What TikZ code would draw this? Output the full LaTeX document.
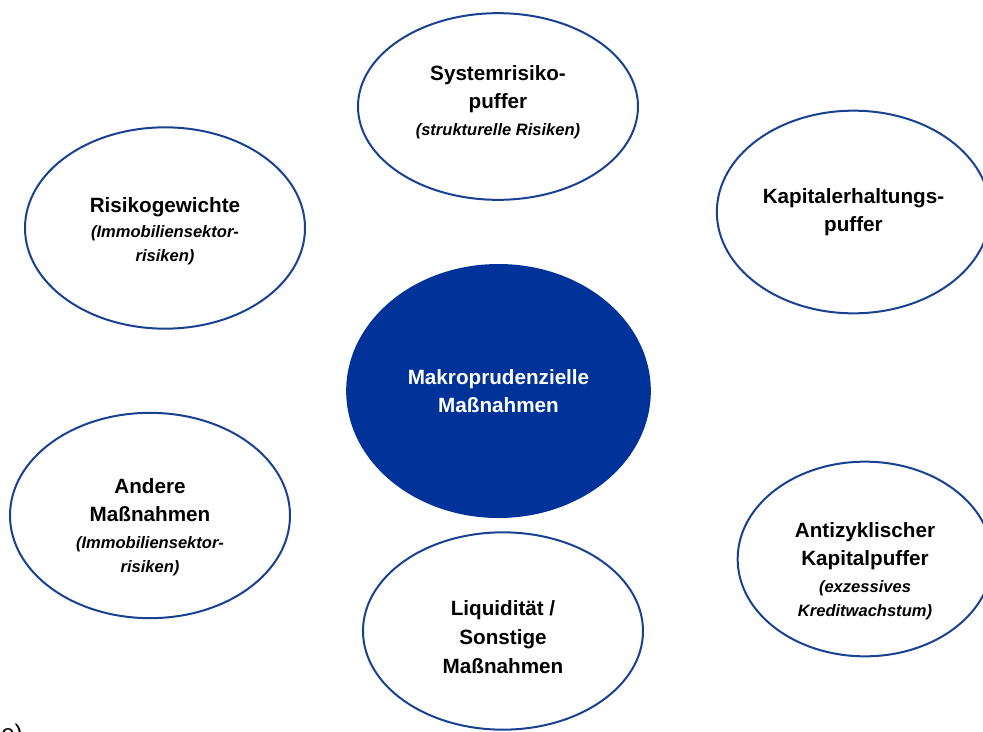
\documentclass[tikz,border=0pt]{standalone}
\usepackage{fontspec}
\setmainfont{Liberation Sans}
\usetikzlibrary{shapes.geometric}
\definecolor{bbblau}{RGB}{0,51,153}
\definecolor{randblau}{RGB}{25,65,145}
\newcommand{\zusatz}[1]{{\fontsize{12.4}{17}\selectfont\itshape #1}}
\tikzset{
    blase/.style = {draw = randblau, line width = 1.5pt, ellipse, inner sep = 0pt},
    beschriftung/.style = {align = center, inner sep = 0pt,
        font = \fontsize{15.5}{21.5}\selectfont\bfseries}
}

\begin{document}
\begin{tikzpicture}[x = 0.75pt, y = -0.75pt]
        \useasboundingbox (0,0) rectangle (983,732);

        % Ellipsen
        \node[blase, minimum width = 210pt, minimum height = 140pt] (system) at (498,106.5) {};
        \node[blase, minimum width = 205pt, minimum height = 152pt] (kapital) at (853.5,212) {};
        \node[blase, minimum width = 210pt, minimum height = 151pt] (risiko) at (165,228) {};
        \node[blase, fill = bbblau, draw = bbblau, minimum width = 227pt, minimum height = 189pt] (makro) at (498.5,391) {};
        \node[blase, minimum width = 210pt, minimum height = 154pt] (andere) at (150,515.5) {};
        \node[blase, minimum width = 210pt, minimum height = 148pt] (liquid) at (503,631) {};
        \node[blase, minimum width = 191pt, minimum height = 146pt] (anti) at (865,559) {};

        % Texte
        \node[beschriftung] (system-t) at ([yshift = 3.4pt]system.center)
            {Systemrisiko-\\puffer\\[-1.5pt]\zusatz{(strukturelle Risiken)}};
        \node[beschriftung] (kapital-t) at (kapital.center)
            {Kapitalerhaltungs-\\puffer};
        \node[beschriftung] (risiko-t) at ([yshift = -2.2pt]risiko.center)
            {Risikogewichte\\[-3pt]\zusatz{(Immobiliensektor-}\\[-3.5pt]\zusatz{risiken)}};
        \node[beschriftung, text = white] (makro-t) at (makro.center)
            {Makroprudenzielle\\Maßnahmen};
        \node[beschriftung] (andere-t) at ([yshift = -8.6pt]andere.center)
            {Andere\\Maßnahmen\\[-1.5pt]\zusatz{(Immobiliensektor-}\\[-3.5pt]\zusatz{risiken)}};
        \node[beschriftung] (liquid-t) at ([yshift = -4.5pt]liquid.center)
            {Liquidität /\\Sonstige\\Maßnahmen};
        \node[beschriftung] (anti-t) at ([yshift = -9pt]anti.center)
            {Antizyklischer\\Kapitalpuffer\\[-1.5pt]\zusatz{(exzessives}\\[-3.5pt]\zusatz{Kreditwachstum)}};

        \node[anchor = base west, inner sep = 0pt, font = \fontsize{18}{18}\selectfont] (rest) at (1,741) {e)};

    \end{tikzpicture}
\end{document}
